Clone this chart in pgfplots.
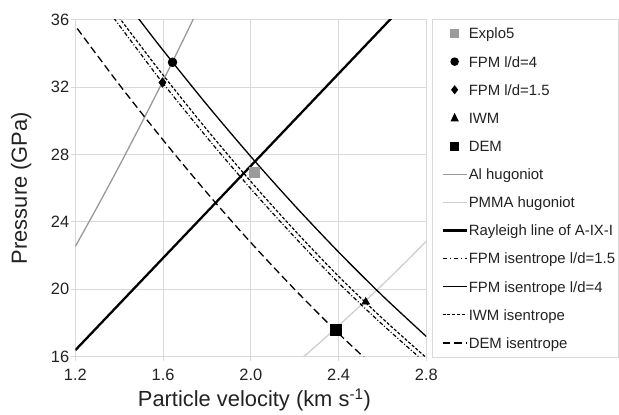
\documentclass[border=0pt]{standalone}
\usepackage{fontspec}
\setmainfont{Liberation Sans}
\usepackage{pgfplots}
\pgfplotsset{compat=1.18}
\usetikzlibrary{calc}
\definecolor{gridgray}{HTML}{D9D9D9}
\definecolor{algray}{HTML}{999999}
\definecolor{pmmagray}{HTML}{CFCFCF}
\definecolor{exgray}{HTML}{9B9B9B}
\definecolor{txt}{HTML}{222222}
\newcommand{\lgbox}{\path[draw=none,fill=none] (-8.2bp,-1bp) rectangle (24bp,1bp);}
\begin{document}
\begin{tikzpicture}
\begin{axis}[
  scale only axis, width=351.5bp, height=337.8bp,
  xmin=1.2, xmax=2.8, ymin=16, ymax=36,
  xtick={1.2,1.6,2.0,2.4,2.8}, xticklabels={1.2,1.6,2.0,2.4,2.8},
  ytick={16,20,24,28,32,36},
  grid=major,
  grid style={draw=gridgray, line width=0.75bp},
  axis line style={draw=gridgray, line width=0.75bp},
  tick style={draw=gridgray, line width=0.75bp},
  tick align=outside, major tick length=4.5bp,
  xtick pos=bottom, ytick pos=left,
  ticklabel style={font=\fontsize{16.5}{19}\selectfont, text=txt},
  /pgf/number format/assume math mode=true,
  yticklabel style={anchor=east, inner sep=0pt, xshift=-1.5bp},
  xticklabel style={anchor=north, inner sep=0pt, yshift=-8bp},
  xlabel={Particle velocity (km s\textsuperscript{-1})},
  ylabel={Pressure (GPa)},
  label style={font=\fontsize{22}{26}\selectfont, text=txt},
  xlabel style={at={($(axis description cs:0.5,0)+(3.6bp,-50bp)$)}, anchor=base},
  ylabel style={at={($(axis description cs:0,0.5)+(-48.5bp,0bp)$)}, anchor=base},
  legend style={at={(axis description cs:1,1)}, anchor=north west, xshift=5.3bp, yshift=0.4bp,
    draw=gridgray, line width=0.75bp, fill=white, inner xsep=2.5bp, inner ysep=0bp,
    row sep=0bp, column sep=0bp, font=\fontsize{15}{18}\selectfont, text=txt,
    nodes={inner xsep=1bp, inner ysep=7.09bp, text height=12.4bp, text depth=1.6bp, anchor=west, draw=none, fill=none}},
  legend cell align=left,
]
% legend entries
\addlegendimage{legend image code/.code={\lgbox
  \path[draw=none, fill=exgray] (7.5bp,-4.5bp) rectangle (16.5bp,4.5bp);}}
\addlegendentry{Explo5}
\addlegendimage{legend image code/.code={\lgbox
  \path[draw=none, fill=black] (12bp,0bp) circle (4.3bp);}}
\addlegendentry{FPM l/d=4}
\addlegendimage{legend image code/.code={\lgbox
  \path[draw=none, fill=black] (12bp,4.6bp) -- (15.6bp,0bp) -- (12bp,-4.6bp) -- (8.4bp,0bp) -- cycle;}}
\addlegendentry{FPM l/d=1.5}
\addlegendimage{legend image code/.code={\lgbox
  \path[draw=none, fill=black] (12bp,5bp) -- (16.2bp,-3.5bp) -- (7.8bp,-3.5bp) -- cycle;}}
\addlegendentry{IWM}
\addlegendimage{legend image code/.code={\lgbox
  \path[draw=none, fill=black] (7.5bp,-4.5bp) rectangle (16.5bp,4.5bp);}}
\addlegendentry{DEM}
\addlegendimage{legend image code/.code={\lgbox
  \path[fill=none, draw=algray, line width=1.3bp] (0bp,0bp) -- (24bp,0bp);}}
\addlegendentry{Al hugoniot}
\addlegendimage{legend image code/.code={\lgbox
  \path[fill=none, draw=pmmagray, line width=1.3bp] (0bp,0bp) -- (24bp,0bp);}}
\addlegendentry{PMMA hugoniot}
\addlegendimage{legend image code/.code={\lgbox
  \path[fill=none, draw=black, line width=2.3bp] (0bp,0bp) -- (24bp,0bp);}}
\addlegendentry{Rayleigh line of A-IX-I}
\addlegendimage{legend image code/.code={\lgbox
  \path[fill=none, draw=black, line width=1.2bp, dash pattern=on 4bp off 3bp on 1bp off 3bp] (0bp,0bp) -- (24bp,0bp);}}
\addlegendentry{FPM isentrope l/d=1.5}
\addlegendimage{legend image code/.code={\lgbox
  \path[fill=none, draw=black, line width=1.3bp] (0bp,0bp) -- (24bp,0bp);}}
\addlegendentry{FPM isentrope l/d=4}
\addlegendimage{legend image code/.code={\lgbox
  \path[fill=none, draw=black, line width=1.2bp, dash pattern=on 3bp off 1.8bp] (0bp,0bp) -- (24bp,0bp);}}
\addlegendentry{IWM isentrope}
\addlegendimage{legend image code/.code={\lgbox
  \path[fill=none, draw=black, line width=1.3bp, dash pattern=on 7.5bp off 4bp] (0bp,0bp) -- (24bp,0bp);}}
\addlegendentry{DEM isentrope}

% Al hugoniot
\addplot[forget plot, draw=algray, line width=1.3bp, smooth] coordinates {
(1.20,22.54) (1.30,24.89) (1.40,27.31) (1.50,29.81) (1.60,32.37) (1.70,35.01) (1.76,36.63)};
% PMMA hugoniot
\addplot[forget plot, draw=pmmagray, line width=1.3bp, smooth] coordinates {
(2.22,15.77) (2.30,16.67) (2.40,17.84) (2.50,19.04) (2.60,20.27) (2.70,21.54) (2.80,22.85)};
% Rayleigh line
\addplot[forget plot, draw=black, line width=2.3bp] coordinates {(1.20,16.39) (2.65,36.20)};
% FPM isentrope l/d=1.5
\addplot[forget plot, draw=black, line width=1.2bp, dash pattern=on 4bp off 2bp on 1bp off 2bp, smooth] coordinates {
(1.35,36.50) (1.38,36.00) (1.50,33.92) (1.60,32.21) (1.80,29.00) (2.00,25.96) (2.20,23.09) (2.40,20.38) (2.60,17.91) (2.80,15.60)};
% FPM isentrope l/d=4
\addplot[forget plot, draw=black, line width=1.3bp, smooth] coordinates {
(1.45,36.70) (1.491,36.00) (1.60,34.17) (1.80,30.94) (2.00,27.87) (2.20,24.96) (2.40,22.21) (2.60,19.62) (2.80,17.20)};
% IWM isentrope
\addplot[forget plot, draw=black, line width=1.2bp, dash pattern=on 3bp off 1.8bp, smooth] coordinates {
(1.37,36.60) (1.406,36.00) (1.50,34.39) (1.60,32.70) (1.80,29.46) (2.00,26.39) (2.20,23.49) (2.40,20.77) (2.60,18.27) (2.80,15.94)};
% DEM isentrope
\addplot[forget plot, draw=black, line width=1.3bp, dash pattern=on 7.5bp off 4bp, smooth] coordinates {
(1.18,35.97) (1.20,35.61) (1.40,32.14) (1.60,28.85) (1.80,25.72) (2.00,22.77) (2.20,19.99) (2.40,17.38) (2.60,14.95)};
% markers
\addplot[forget plot, only marks, mark=square*, mark size=5bp, mark options={draw=exgray, fill=exgray, line width=0.1bp}] coordinates {(2.013,26.94)};
\addplot[forget plot, only marks, mark=*, mark size=4.5bp, mark options={draw=black, fill=black, line width=0.5bp}] coordinates {(1.643,33.46)};
\addplot[forget plot, only marks, mark=diamond*, mark size=4.8bp, mark options={draw=black, fill=black, line width=0.5bp}] coordinates {(1.597,32.26)};
\addplot[forget plot, only marks, mark=triangle*, mark size=4.5bp, mark options={draw=black, fill=black, line width=0.5bp}] coordinates {(2.524,19.25)};
\addplot[forget plot, only marks, mark=square*, mark size=5.3bp, mark options={draw=black, fill=black, line width=0.1bp}] coordinates {(2.387,17.62)};
\coordinate (ll) at (rel axis cs:0,0);
\coordinate (ur) at (rel axis cs:1,1);
\end{axis}
\path ($(ll)+(-75.5bp,-55.7bp)$) rectangle ($(ur)+(192bp,19.5bp)$);
\end{tikzpicture}
\end{document}
